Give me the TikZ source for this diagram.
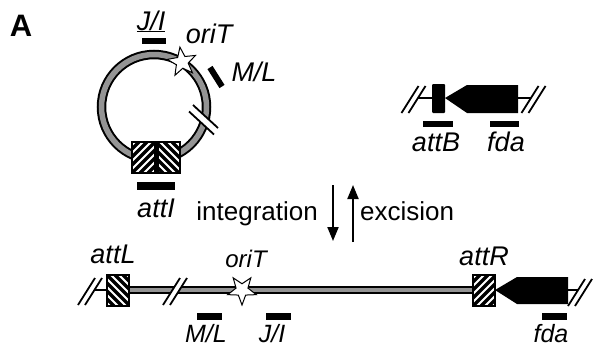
\documentclass[tikz,border=0pt]{standalone}
\usepackage{fontspec}
\setmainfont{Liberation Sans}
\usetikzlibrary{arrows.meta,shapes.geometric}
\begin{document}
\begin{tikzpicture}[x=1pt,y=-1pt]
\tikzset{
  lbl/.style={font=\fontsize{27}{30}\selectfont\itshape,inner sep=0pt,anchor=base},
  lowlbl/.style={lbl,font=\fontsize{25}{28}\selectfont\itshape},
  thinline/.style={line width=1.2pt},
  band/.style={line width=8pt},
  bandfill/.style={line width=4.5pt,black!42},
  stripe/.style={line width=3.5pt},
  boxline/.style={draw,line width=1.5pt},
  orit/.style={draw,star,star points=5,star point ratio=2.4,minimum size=30pt,
    inner sep=0pt,fill=white,line width=1pt},
  flip/.style={-{Triangle[width=11pt,length=14pt]},line width=2pt},
  brk/.pic={
    \fill[white] (-12,13.5) -- (5,-13.5) -- (12,-13.5) -- (-5,13.5) -- cycle;
    \draw[line width=1.8pt] (-12,13.5) -- (5,-13.5);
    \draw[line width=1.8pt] (-5,13.5) -- (12,-13.5);
  }
}
\useasboundingbox (0,0) rectangle (604,349);

\node[font=\fontsize{31}{34}\selectfont\bfseries,inner sep=0pt,anchor=base] (panelA) at (21,36) {A};

% plasmide circulaire
\draw[band,line width=9.5pt] (154,107) circle[radius=52.5pt];
\draw[bandfill,line width=5.5pt] (154,107) circle[radius=52.5pt];
\fill[white] (193,105) -- (218,128) -- (214,134.5) -- (189,111.5) -- cycle;
\draw[line width=1.8pt] (193,105) -- (218,128);
\draw[line width=1.8pt] (189,111.5) -- (214,134.5);

% marqueurs J/I, M/L, oriT
\fill (142,38) rectangle (166,44);
\draw[line width=6pt] (210,67.5) -- (222,86.5);
\node[orit,shape border rotate=8] (oriTc) at (182,62) {};
\node[lbl] (JIc) at (151,30) {\underline{J/I}};
\node[lbl] (oriTcl) at (209,43) {oriT};
\node[lbl] (MLc) at (254,81) {M/L};

% attI
\fill[white] (132,142) rectangle (180,173);
\begin{scope}
  \clip (132,142) rectangle (156,173);
  \foreach \s in {-40,-32,...,24} \draw[stripe] (132+\s,173) -- (163+\s,142);
\end{scope}
\begin{scope}
  \clip (156,142) rectangle (180,173);
  \foreach \s in {-40,-32,...,24} \draw[stripe] (156+\s,142) -- (187+\s,173);
\end{scope}
\fill (153.5,142) rectangle (158.5,173);
\draw[boxline] (132,142) rectangle (180,173);
\fill (137,182) rectangle (175,190);
\node[lbl] (attI) at (156,217) {attI};

% attB et fda (chromosome)
\draw[thinline] (413,98) -- (432,98);
\draw[thinline] (518,98) -- (533,98);
\fill[rounded corners=1pt] (432,84) rectangle (445,113);
\fill (445,98) -- (467,85) -- (518,85) -- (518,113) -- (467,113) -- cycle;
\pic at (413.5,99.5) {brk};
\pic at (533.5,99.5) {brk};
\fill (423,121) rectangle (453,127);
\fill (490,121) rectangle (519,127);
\node[lbl] (attB) at (436,151) {attB};
\node[lbl] (fdaB) at (506,151) {fda};

% integration / excision
\coordinate (intTop) at (333,185);
\coordinate (intBot) at (333,241);
\coordinate (excBot) at (353,242);
\coordinate (excTop) at (353,185);
\draw[flip] (intTop) -- (intBot);
\draw[flip] (excBot) -- (excTop);
\node[font=\fontsize{26}{30}\selectfont,inner sep=0pt,anchor=base east] (integ) at (318,220) {integration};
\node[font=\fontsize{26}{30}\selectfont,inner sep=0pt,anchor=base west] (excis) at (360,220) {excision};

% forme intégrée
\draw[thinline] (90,290) -- (107,290);
\draw[band] (129,290) -- (473,290);
\draw[bandfill] (129,290) -- (473,290);
\pic at (90,291.5) {brk};
\pic at (175,291.5) {brk};
% attL
\fill[white] (107,275) rectangle (129,306);
\begin{scope}
  \clip (107,275) rectangle (129,306);
  \foreach \s in {-40,-32,...,24} \draw[stripe] (107+\s,275) -- (138+\s,306);
\end{scope}
\draw[boxline] (107,275) rectangle (129,306);
% attR
\fill[white] (473,275) rectangle (495,306);
\begin{scope}
  \clip (473,275) rectangle (495,306);
  \foreach \s in {-40,-32,...,24} \draw[stripe] (473+\s,306) -- (504+\s,275);
\end{scope}
\draw[boxline] (473,275) rectangle (495,306);
\fill (495,290) -- (517,277) -- (568,277) -- (568,304) -- (517,304) -- cycle;
\draw[thinline] (568,290) -- (580,290);
\pic at (580,292.5) {brk};
\node[orit,shape border rotate=180] (oriTl) at (242,290) {};

\fill (197,313) rectangle (222,320);
\fill (266,313) rectangle (291,320);
\fill (542,313) rectangle (567,320);
\node[lbl] (attL) at (113,263) {attL};
\node[lbl,font=\fontsize{24}{28}\selectfont\itshape] (oriTll) at (246,267) {oriT};
\node[lbl] (attR) at (484,265) {attR};
\node[lowlbl] (MLl) at (206,342) {M/L};
\node[lowlbl] (JIl) at (272,342) {J/I};
\node[lowlbl] (fdal) at (551,342) {fda};
\end{tikzpicture}
\end{document}
